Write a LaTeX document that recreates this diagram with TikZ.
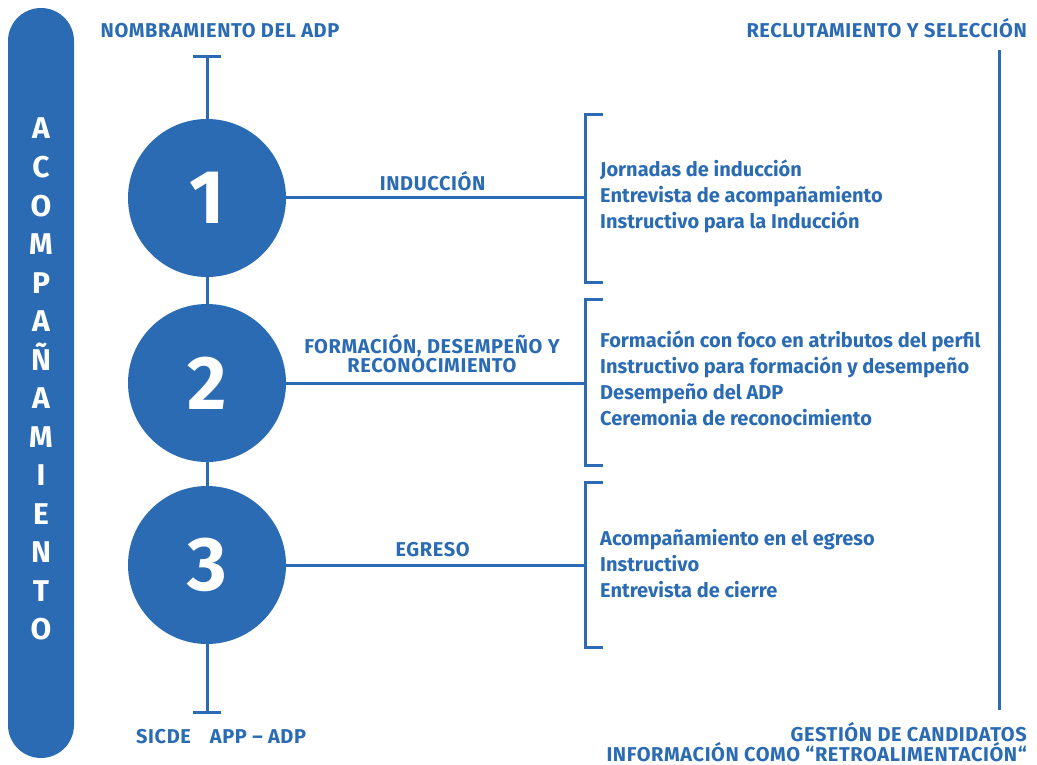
\documentclass[tikz,border=0pt]{standalone}
\usepackage{fontspec}
\setmainfont{Fira Sans}
\definecolor{adpblue}{RGB}{42,107,180}
\begin{document}
\begin{tikzpicture}[x=1pt,y=-1pt,
    line/.style={draw=adpblue, line width=3pt},
    txt/.style={text=adpblue, inner sep=0pt, font=\bfseries\fontsize{20}{21}\selectfont},
    caps/.style={txt, font=\bfseries\fontsize{20}{21}\selectfont\addfontfeature{LetterSpace=3}},
    phase/.style={circle, fill=adpblue, minimum size=158pt, inner sep=0pt, text=white, font=\bfseries\fontsize{76}{76}\selectfont},
    barletter/.style={text=white, inner sep=0pt, anchor=base, font=\bfseries\fontsize{30}{30}\selectfont}]
    \useasboundingbox (0,0) rectangle (1037,765);

    % Side bar
    \fill[adpblue, rounded corners=33pt] (8,8) rectangle (74,758);
    \foreach \l [count=\i from 0] in {A,C,O,M,P,A,Ñ,A,M,I,E,N,T,O}
        \node[barletter] (s\i) at (41,139+38.5*\i) {\l};

    % Define points
    \coordinate (top) at (207,57);
    \coordinate (bot) at (207,712);
    \coordinate (b1) at (585,198);
    \coordinate (b2) at (585,383);
    \coordinate (b3) at (585,565);
    \coordinate (rtop) at (999,50);
    \coordinate (rbot) at (999,710);

    % Time line
    \draw[line] (top) -- (bot);
    \draw[line] ([xshift=-14pt]top) -- ([xshift=14pt]top);
    \draw[line] ([xshift=-14pt]bot) -- ([xshift=14pt]bot);
    \draw[line] (rtop) -- (rbot);

    % Phases
    \node[phase] (c1) at (207,198) {1};
    \node[phase] (c2) at (207,383) {2};
    \node[phase] (c3) at (207,565) {3};
    \draw[line] (c1.east) -- (b1) node[caps, pos=0.49, anchor=base, yshift=8pt] (l1) {INDUCCIÓN};
    \draw[line] (c2.east) -- (b2);
    \draw[line] (c3.east) -- (b3) node[caps, pos=0.49, anchor=base, yshift=9pt] (l3) {EGRESO};
    \node[caps, anchor=base] (l2a) at (432,353) {FORMACIÓN, DESEMPEÑO Y};
    \node[caps, anchor=base] (l2b) at (432,372) {RECONOCIMIENTO};

    % Brackets
    \draw[line] (603,115) -- (585,115) -- (585,282) -- (603,282);
    \draw[line] (603,299) -- (585,299) -- (585,465) -- (603,465);
    \draw[line] (603,482) -- (585,482) -- (585,647) -- (603,647);

    % Items
    \foreach \t [count=\i from 0] in {Jornadas de inducción,Entrevista de acompañamiento,Instructivo para la Inducción}
        \node[txt, anchor=base west] (a\i) at (600,177+26*\i) {\t};
    \foreach \t [count=\i from 0] in {Formación con foco en atributos del perfil,Instructivo para formación y desempeño,Desempeño del ADP,Ceremonia de reconocimiento}
        \node[txt, anchor=base west] (f\i) at (600,347+26.3*\i) {\t};
    \foreach \t [count=\i from 0] in {Acompañamiento en el egreso,Instructivo,Entrevista de cierre}
        \node[txt, anchor=base west] (e\i) at (600,545+26.3*\i) {\t};

    % Top and bottom labels
    \node[caps, anchor=base] (nom) at (220,38) {NOMBRAMIENTO DEL ADP};
    \node[caps, anchor=base east] (rec) at (1027,38) {RECLUTAMIENTO Y SELECCIÓN};
    \node[caps, anchor=base west] (sic) at (136,743) {SICDE\hspace{19pt}APP – ADP};
    \node[caps, anchor=base east] (ges) at (1027,741) {GESTIÓN DE CANDIDATOS};
    \node[caps, anchor=base east] (inf) at (1027,761) {INFORMACIÓN COMO “RETROALIMENTACIÓN“};
\end{tikzpicture}
\end{document}
